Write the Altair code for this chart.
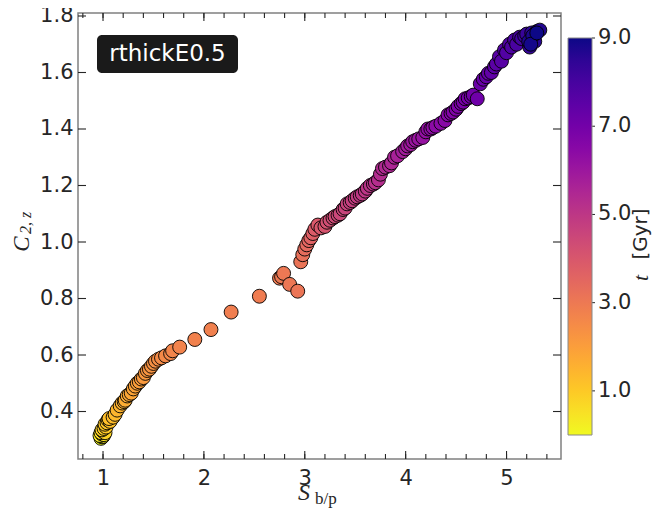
import altair as alt
import pandas as pd

# ---- data ----
S_VALS = [
    0.98, 0.99, 1.00, 0.97, 0.99, 1.01, 0.98, 1.00, 1.02, 0.99, 1.01, 1.03,
    1.02, 1.04, 1.05, 1.07, 1.06, 1.10, 1.12, 1.14,
    1.17, 1.19, 1.21, 1.22, 1.24, 1.26, 1.28, 1.30, 1.32, 1.34, 1.36, 1.38, 1.40, 1.42, 1.44, 1.46, 1.48,
    1.50, 1.52, 1.55, 1.58, 1.62, 1.67, 1.69, 1.76,
    1.91, 2.07, 2.27, 2.55, 2.75, 2.77, 2.79, 2.85, 2.93,
    2.96, 2.98, 3.00, 3.02, 3.04, 3.06, 3.08, 3.10, 3.13, 3.16, 3.20, 3.22, 3.25,
    3.28, 3.30, 3.33, 3.35, 3.38, 3.40, 3.42, 3.45, 3.47, 3.50, 3.52, 3.55, 3.57, 3.60, 3.62, 3.65, 3.68, 3.70,
    3.73, 3.75, 3.77, 3.80, 3.84, 3.86, 3.89, 3.92, 3.97, 4.00, 4.02, 4.05, 4.07, 4.10, 4.13, 4.17, 4.20,
    4.22, 4.25, 4.27, 4.30, 4.35, 4.39, 4.42, 4.45, 4.47, 4.50, 4.52, 4.55, 4.57, 4.59, 4.62, 4.65, 4.67, 4.71,
    4.74, 4.77, 4.80, 4.82, 4.85, 4.88, 4.90, 4.93, 4.95, 4.98, 5.00, 5.03, 5.05,
    5.08, 5.10, 5.13, 5.15, 5.18, 5.20, 5.23, 5.25, 5.27, 5.28, 5.30, 5.33, 5.22, 5.26, 5.24, 5.30,
]
C_VALS = [
    0.305, 0.31, 0.312, 0.315, 0.32, 0.318, 0.325, 0.33, 0.325, 0.335, 0.34, 0.345,
    0.355, 0.36, 0.37, 0.365, 0.375, 0.38, 0.39, 0.405,
    0.42, 0.43, 0.435, 0.44, 0.455, 0.46, 0.465, 0.48, 0.49, 0.50, 0.505, 0.515, 0.52, 0.535, 0.545, 0.55, 0.56,
    0.57, 0.578, 0.585, 0.59, 0.597, 0.605, 0.615, 0.628,
    0.655, 0.69, 0.752, 0.808, 0.872, 0.877, 0.889, 0.85, 0.826,
    0.93, 0.955, 0.975, 0.99, 1.005, 1.015, 1.03, 1.045, 1.06, 1.05, 1.055, 1.07, 1.077,
    1.085, 1.09, 1.095, 1.10, 1.115, 1.12, 1.135, 1.14, 1.146, 1.155, 1.16, 1.165, 1.17, 1.18, 1.19, 1.20, 1.205, 1.21,
    1.22, 1.24, 1.26, 1.265, 1.27, 1.28, 1.30, 1.305, 1.32, 1.33, 1.34, 1.345, 1.355, 1.36, 1.365, 1.37, 1.39,
    1.40, 1.40, 1.405, 1.41, 1.42, 1.43, 1.45, 1.455, 1.46, 1.47, 1.48, 1.49, 1.495, 1.507, 1.51, 1.515, 1.52, 1.507,
    1.56, 1.576, 1.585, 1.597, 1.60, 1.62, 1.63, 1.656, 1.64, 1.68, 1.67, 1.70, 1.69,
    1.715, 1.70, 1.725, 1.72, 1.73, 1.736, 1.69, 1.74, 1.72, 1.71, 1.745, 1.75, 1.71, 1.73, 1.70, 1.74,
]
T_VALS = [
    0.0, 0.1, 0.2, 0.3, 0.4, 0.5, 0.6, 0.7, 0.8, 0.85, 0.9, 1.0,
    1.05, 1.1, 1.15, 1.2, 1.25, 1.3, 1.35, 1.45,
    1.5, 1.55, 1.6, 1.65, 1.7, 1.75, 1.8, 1.85, 1.9, 1.95, 2.0, 2.05, 2.1, 2.15, 2.2, 2.25, 2.3,
    2.35, 2.4, 2.45, 2.5, 2.55, 2.6, 2.65, 2.7,
    2.75, 2.8, 2.85, 2.9, 2.95, 3.0, 3.02, 3.05, 3.1,
    3.15, 3.25, 3.35, 3.45, 3.55, 3.65, 3.75, 3.85, 3.95, 4.0, 4.1, 4.2, 4.3,
    4.35, 4.4, 4.45, 4.5, 4.55, 4.6, 4.65, 4.7, 4.75, 4.8, 4.85, 4.9, 4.95, 5.0, 5.05, 5.1, 5.15, 5.2,
    5.3, 5.35, 5.4, 5.45, 5.5, 5.55, 5.6, 5.7, 5.8, 5.85, 5.9, 5.95, 6.0, 6.05, 6.1, 6.15, 6.2,
    6.25, 6.3, 6.35, 6.4, 6.45, 6.5, 6.55, 6.6, 6.65, 6.7, 6.75, 6.8, 6.85, 6.9, 6.95, 7.0, 7.05, 7.1,
    7.2, 7.25, 7.3, 7.35, 7.4, 7.5, 7.55, 7.6, 7.65, 7.7, 7.75, 7.8, 7.85,
    7.9, 7.95, 8.0, 8.1, 8.2, 8.3, 8.4, 8.45, 8.5, 8.6, 8.65, 8.7, 8.75, 8.8, 8.9, 9.0,
]

X_MAJOR = [1, 2, 3, 4, 5]
X_ALL = [0.8, 1.0, 1.2, 1.4, 1.6, 1.8, 2.0, 2.2, 2.4, 2.6, 2.8, 3.0, 3.2, 3.4,
         3.6, 3.8, 4.0, 4.2, 4.4, 4.6, 4.8, 5.0, 5.2, 5.4]
Y_MAJOR = [0.4, 0.6, 0.8, 1.0, 1.2, 1.4, 1.6, 1.8]
CBAR_TICKS = [1, 3, 5, 7, 9]
T_DOMAIN = [0, 9]
LABEL = ["rthickE0.5"]
X_TITLE = ["S", "b/p"]
Y_TITLE = ["C", "2, z"]
C_TITLE = ["t", "[Gyr]"]

W, H = 483, 446
TOP = 5  # plot top sits at page y = 8 + TOP
TXT = "#262626"
CB_TOP, CB_LEN, CB_X, CB_W = 38 - 8 - TOP, 397, 490, 24

xscale = alt.Scale(domain=[0.752, 5.54], nice=False, zero=False)
yscale = alt.Scale(domain=[0.2319, 1.8106], nice=False, zero=False)
xaxis = alt.Axis(values=X_MAJOR, format="d", title=None, ticks=False,
                 domain=False, grid=False, labelPadding=8)
yaxis = alt.Axis(values=Y_MAJOR, format=".1f", title=None, ticks=False,
                 domain=False, grid=False, labelPadding=5)

df = pd.DataFrame({"S": S_VALS, "C": C_VALS, "t": T_VALS})

points = alt.Chart(df).mark_point(
    filled=True, shape="circle", size=195, stroke="black", strokeWidth=0.9, opacity=1
).encode(
    x=alt.X("S:Q", scale=xscale, axis=xaxis),
    y=alt.Y("C:Q", scale=yscale, axis=yaxis),
    color=alt.Color("t:Q",
                    scale=alt.Scale(scheme="plasma", reverse=True, domain=T_DOMAIN),
                    legend=alt.Legend(title=None, orient="none", legendX=CB_X, legendY=CB_TOP,
                                      direction="vertical", gradientLength=CB_LEN,
                                      gradientThickness=CB_W, values=CBAR_TICKS,
                                      labelExpr="''", labelFontSize=1,
                                      gradientStrokeColor="#888888",
                                      gradientStrokeWidth=1)),
)

# colorbar tick labels, positioned by a scale spanning the gradient
cb_y = alt.Y("v:Q", scale=alt.Scale(domain=T_DOMAIN, range=[CB_TOP + CB_LEN, CB_TOP]), axis=None)
cb_labels = alt.Chart(pd.DataFrame({"v": CBAR_TICKS})).mark_text(
    font="DejaVu Sans", fontSize=21, color=TXT, align="left", baseline="middle"
).encode(y=cb_y, x=alt.value(CB_X + CB_W + 6), text=alt.Text("v:Q", format=".1f"))
cb_ticks = alt.Chart(pd.DataFrame({"v": CBAR_TICKS})).mark_rule(color=TXT, strokeWidth=1).encode(
    y=cb_y, x=alt.value(CB_X + CB_W), x2=alt.value(CB_X + CB_W + 3))

def xticks(vals, top, length):
    y0 = 0 if top else H
    y1 = length if top else H - length
    return alt.Chart(pd.DataFrame({"S": vals})).mark_rule(color=TXT, strokeWidth=1.1).encode(
        x=alt.X("S:Q", scale=xscale, axis=xaxis), y=alt.value(y0), y2=alt.value(y1))

def yticks(vals, right, length):
    x0 = W if right else 0
    x1 = W - length if right else length
    return alt.Chart(pd.DataFrame({"C": vals})).mark_rule(color=TXT, strokeWidth=1.1).encode(
        y=alt.Y("C:Q", scale=yscale, axis=None), x=alt.value(x0), x2=alt.value(x1))

ticks = [
    xticks(X_ALL, False, 5), xticks(X_MAJOR, False, 8),
    xticks(X_ALL, True, 5), xticks(X_MAJOR, True, 8),
    yticks(Y_MAJOR, False, 8), yticks(Y_MAJOR, True, 8),
]

box = alt.Chart(pd.DataFrame({"a": [0]})).mark_rect(
    color="#1a1a1a", cornerRadius=5
).encode(x=alt.value(19), x2=alt.value(160), y=alt.value(27 - TOP), y2=alt.value(65 - TOP))

box_text = alt.Chart(pd.DataFrame({"s": LABEL})).mark_text(
    color="white", font="DejaVu Sans", fontSize=23, align="center", baseline="middle"
).encode(x=alt.value(89.5), y=alt.value(46 - TOP), text="s:N")

def txt(s, x, y, font, size, italic=False, angle=0, align="center", baseline="alphabetic"):
    kw = dict(font=font, fontSize=size, color=TXT, align=align, baseline=baseline, angle=angle)
    if italic:
        kw["fontStyle"] = "italic"
    return alt.Chart(pd.DataFrame({"s": [s]})).mark_text(**kw).encode(
        x=alt.value(x), y=alt.value(y - TOP), text="s:N")

titles = [
    txt(X_TITLE[0], 226, 492, "Liberation Serif", 24, italic=True),
    txt(X_TITLE[1], 237, 496, "Liberation Serif", 17, align="left"),
    txt(Y_TITLE[0], -56, 236, "Liberation Serif", 23, italic=True, angle=270, baseline="middle"),
    txt(Y_TITLE[1], -52, 226, "Liberation Serif", 16, italic=True, angle=270, baseline="middle", align="left"),
    txt(C_TITLE[0], 563, 270, "Liberation Serif", 22, italic=True, angle=270, baseline="middle"),
    txt(C_TITLE[1], 563, 226, "DejaVu Sans", 20, angle=270, baseline="middle"),
]

chart = alt.layer(points, *ticks, cb_ticks, cb_labels, box, box_text, *titles).resolve_scale(
    y="independent"
).properties(
    width=W, height=H,
    autosize=alt.AutoSizeParams(type="none"),
    padding={"left": 70, "top": TOP, "right": 93, "bottom": 50},
).configure_view(
    stroke="#808080", strokeWidth=1.5
).configure_axis(
    labelFont="DejaVu Sans", labelFontSize=21, labelColor=TXT
)

chart.save("out.html", embed_options={"renderer": "svg", "actions": False})
